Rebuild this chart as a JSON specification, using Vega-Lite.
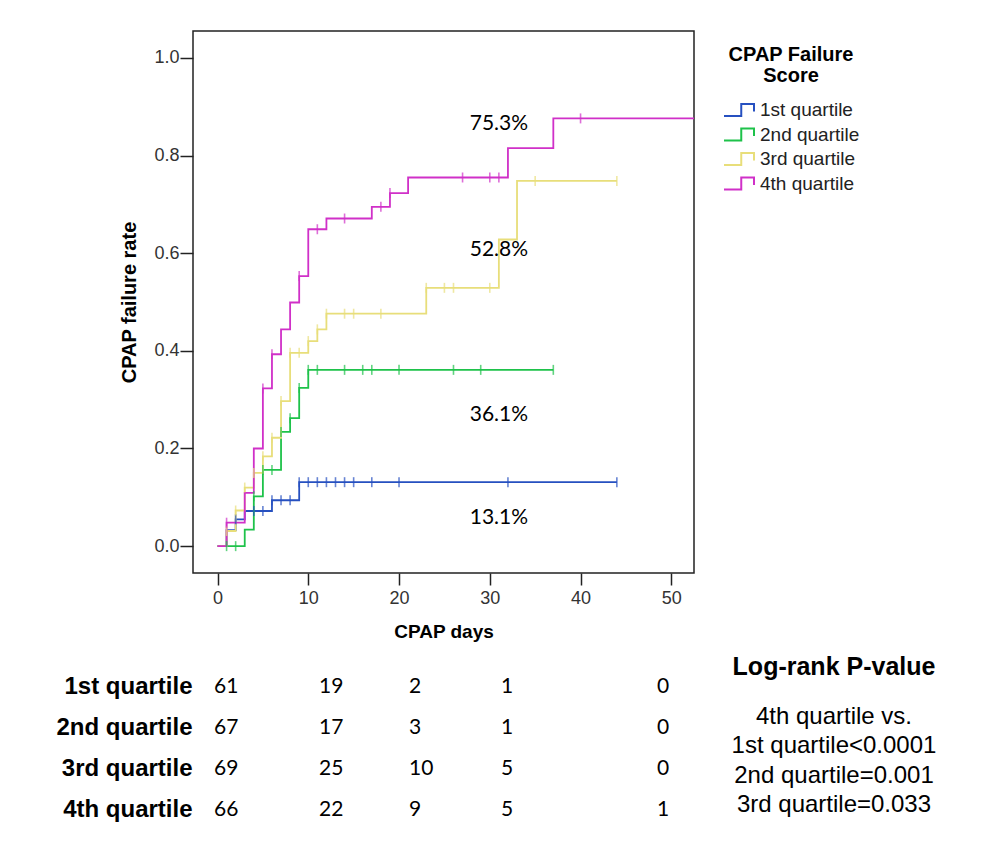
{
  "$schema": "https://vega.github.io/schema/vega-lite/v6.json",
  "padding": {"left": 55, "top": 30, "right": 0, "bottom": 0},
  "spacing": 12,
  "background": "white",
  "datasets": {
    "curves": [
      {"q": "1st quartile", "day": 0, "rate": 0},
      {"q": "1st quartile", "day": 1, "rate": 0.033},
      {"q": "1st quartile", "day": 2, "rate": 0.055},
      {"q": "1st quartile", "day": 3, "rate": 0.072},
      {"q": "1st quartile", "day": 6, "rate": 0.094},
      {"q": "1st quartile", "day": 9, "rate": 0.131},
      {"q": "1st quartile", "day": 44, "rate": 0.131},
      {"q": "2nd quartile", "day": 0, "rate": 0},
      {"q": "2nd quartile", "day": 3, "rate": 0.034},
      {"q": "2nd quartile", "day": 4, "rate": 0.102},
      {"q": "2nd quartile", "day": 5, "rate": 0.156},
      {"q": "2nd quartile", "day": 7, "rate": 0.234},
      {"q": "2nd quartile", "day": 8, "rate": 0.262},
      {"q": "2nd quartile", "day": 9, "rate": 0.324},
      {"q": "2nd quartile", "day": 10, "rate": 0.361},
      {"q": "2nd quartile", "day": 37, "rate": 0.361},
      {"q": "3rd quartile", "day": 0, "rate": 0},
      {"q": "3rd quartile", "day": 1, "rate": 0.031},
      {"q": "3rd quartile", "day": 2, "rate": 0.073},
      {"q": "3rd quartile", "day": 3, "rate": 0.12},
      {"q": "3rd quartile", "day": 4, "rate": 0.15},
      {"q": "3rd quartile", "day": 5, "rate": 0.184},
      {"q": "3rd quartile", "day": 6, "rate": 0.222},
      {"q": "3rd quartile", "day": 7, "rate": 0.297},
      {"q": "3rd quartile", "day": 8, "rate": 0.396},
      {"q": "3rd quartile", "day": 10, "rate": 0.42},
      {"q": "3rd quartile", "day": 11, "rate": 0.444},
      {"q": "3rd quartile", "day": 12, "rate": 0.476},
      {"q": "3rd quartile", "day": 23, "rate": 0.529},
      {"q": "3rd quartile", "day": 31, "rate": 0.628},
      {"q": "3rd quartile", "day": 33, "rate": 0.748},
      {"q": "3rd quartile", "day": 44, "rate": 0.748},
      {"q": "4th quartile", "day": 0, "rate": 0},
      {"q": "4th quartile", "day": 1, "rate": 0.048},
      {"q": "4th quartile", "day": 3, "rate": 0.109},
      {"q": "4th quartile", "day": 4, "rate": 0.2},
      {"q": "4th quartile", "day": 5, "rate": 0.323},
      {"q": "4th quartile", "day": 6, "rate": 0.393},
      {"q": "4th quartile", "day": 7, "rate": 0.444},
      {"q": "4th quartile", "day": 8, "rate": 0.499},
      {"q": "4th quartile", "day": 9, "rate": 0.553},
      {"q": "4th quartile", "day": 10, "rate": 0.649},
      {"q": "4th quartile", "day": 12, "rate": 0.671},
      {"q": "4th quartile", "day": 17, "rate": 0.695},
      {"q": "4th quartile", "day": 19, "rate": 0.723},
      {"q": "4th quartile", "day": 21, "rate": 0.755},
      {"q": "4th quartile", "day": 32, "rate": 0.815},
      {"q": "4th quartile", "day": 37, "rate": 0.876},
      {"q": "4th quartile", "day": 53, "rate": 0.876}
    ],
    "censor": [
      {"q": "1st quartile", "day": 2, "rate": 0.055},
      {"q": "1st quartile", "day": 4, "rate": 0.072},
      {"q": "1st quartile", "day": 5, "rate": 0.072},
      {"q": "1st quartile", "day": 6, "rate": 0.094},
      {"q": "1st quartile", "day": 7, "rate": 0.094},
      {"q": "1st quartile", "day": 8, "rate": 0.094},
      {"q": "1st quartile", "day": 9, "rate": 0.131},
      {"q": "1st quartile", "day": 10, "rate": 0.131},
      {"q": "1st quartile", "day": 11, "rate": 0.131},
      {"q": "1st quartile", "day": 12, "rate": 0.131},
      {"q": "1st quartile", "day": 13, "rate": 0.131},
      {"q": "1st quartile", "day": 14, "rate": 0.131},
      {"q": "1st quartile", "day": 15, "rate": 0.131},
      {"q": "1st quartile", "day": 17, "rate": 0.131},
      {"q": "1st quartile", "day": 20, "rate": 0.131},
      {"q": "1st quartile", "day": 32, "rate": 0.131},
      {"q": "1st quartile", "day": 44, "rate": 0.131},
      {"q": "2nd quartile", "day": 1, "rate": 0},
      {"q": "2nd quartile", "day": 2, "rate": 0},
      {"q": "2nd quartile", "day": 4, "rate": 0.102},
      {"q": "2nd quartile", "day": 5, "rate": 0.156},
      {"q": "2nd quartile", "day": 6, "rate": 0.156},
      {"q": "2nd quartile", "day": 7, "rate": 0.234},
      {"q": "2nd quartile", "day": 8, "rate": 0.262},
      {"q": "2nd quartile", "day": 9, "rate": 0.324},
      {"q": "2nd quartile", "day": 10, "rate": 0.361},
      {"q": "2nd quartile", "day": 11, "rate": 0.361},
      {"q": "2nd quartile", "day": 14, "rate": 0.361},
      {"q": "2nd quartile", "day": 16, "rate": 0.361},
      {"q": "2nd quartile", "day": 17, "rate": 0.361},
      {"q": "2nd quartile", "day": 20, "rate": 0.361},
      {"q": "2nd quartile", "day": 26, "rate": 0.361},
      {"q": "2nd quartile", "day": 29, "rate": 0.361},
      {"q": "2nd quartile", "day": 37, "rate": 0.361},
      {"q": "3rd quartile", "day": 1, "rate": 0.031},
      {"q": "3rd quartile", "day": 2, "rate": 0.073},
      {"q": "3rd quartile", "day": 3, "rate": 0.12},
      {"q": "3rd quartile", "day": 4, "rate": 0.15},
      {"q": "3rd quartile", "day": 5, "rate": 0.184},
      {"q": "3rd quartile", "day": 6, "rate": 0.222},
      {"q": "3rd quartile", "day": 7, "rate": 0.297},
      {"q": "3rd quartile", "day": 8, "rate": 0.396},
      {"q": "3rd quartile", "day": 9, "rate": 0.396},
      {"q": "3rd quartile", "day": 10, "rate": 0.42},
      {"q": "3rd quartile", "day": 11, "rate": 0.444},
      {"q": "3rd quartile", "day": 12, "rate": 0.476},
      {"q": "3rd quartile", "day": 14, "rate": 0.476},
      {"q": "3rd quartile", "day": 15, "rate": 0.476},
      {"q": "3rd quartile", "day": 18, "rate": 0.476},
      {"q": "3rd quartile", "day": 23, "rate": 0.529},
      {"q": "3rd quartile", "day": 25, "rate": 0.529},
      {"q": "3rd quartile", "day": 26, "rate": 0.529},
      {"q": "3rd quartile", "day": 30, "rate": 0.529},
      {"q": "3rd quartile", "day": 35, "rate": 0.748},
      {"q": "3rd quartile", "day": 44, "rate": 0.748},
      {"q": "4th quartile", "day": 1, "rate": 0.048},
      {"q": "4th quartile", "day": 5, "rate": 0.323},
      {"q": "4th quartile", "day": 6, "rate": 0.393},
      {"q": "4th quartile", "day": 9, "rate": 0.553},
      {"q": "4th quartile", "day": 11, "rate": 0.649},
      {"q": "4th quartile", "day": 14, "rate": 0.671},
      {"q": "4th quartile", "day": 18, "rate": 0.695},
      {"q": "4th quartile", "day": 19, "rate": 0.723},
      {"q": "4th quartile", "day": 27, "rate": 0.755},
      {"q": "4th quartile", "day": 30, "rate": 0.755},
      {"q": "4th quartile", "day": 31, "rate": 0.755},
      {"q": "4th quartile", "day": 40, "rate": 0.876}
    ],
    "pct": [
      {"label": "75.3%", "day": 31, "rate": 0.865},
      {"label": "52.8%", "day": 31, "rate": 0.607},
      {"label": "36.1%", "day": 31, "rate": 0.268},
      {"label": "13.1%", "day": 31, "rate": 0.057}
    ],
    "risk": [
      {"row": "1st quartile", "col": 0, "n": 61},
      {"row": "1st quartile", "col": 1, "n": 19},
      {"row": "1st quartile", "col": 2, "n": 2},
      {"row": "1st quartile", "col": 3, "n": 1},
      {"row": "1st quartile", "col": 4, "n": 0},
      {"row": "2nd quartile", "col": 0, "n": 67},
      {"row": "2nd quartile", "col": 1, "n": 17},
      {"row": "2nd quartile", "col": 2, "n": 3},
      {"row": "2nd quartile", "col": 3, "n": 1},
      {"row": "2nd quartile", "col": 4, "n": 0},
      {"row": "3rd quartile", "col": 0, "n": 69},
      {"row": "3rd quartile", "col": 1, "n": 25},
      {"row": "3rd quartile", "col": 2, "n": 10},
      {"row": "3rd quartile", "col": 3, "n": 5},
      {"row": "3rd quartile", "col": 4, "n": 0},
      {"row": "4th quartile", "col": 0, "n": 66},
      {"row": "4th quartile", "col": 1, "n": 22},
      {"row": "4th quartile", "col": 2, "n": 9},
      {"row": "4th quartile", "col": 3, "n": 5},
      {"row": "4th quartile", "col": 4, "n": 1}
    ],
    "ptitle": [
      {"row": "1st quartile", "col": 5, "t": "Log-rank P-value"}
    ],
    "pblock": [
      {"row": "2nd quartile", "col": 5, "lines": ["4th quartile vs.", "1st quartile<0.0001", "2nd quartile=0.001", "3rd quartile=0.033"]}
    ]
  },
  "vconcat": [
    {
      "width": 501,
      "height": 542,
      "layer": [
        {
          "data": {"name": "curves"},
          "mark": {"type": "line", "interpolate": "step-after", "strokeWidth": 1.8, "clip": true},
          "encoding": {
            "x": {
              "field": "day", "type": "quantitative",
              "scale": {"domain": [-2.7, 52.5], "nice": false, "zero": false},
              "axis": {"title": "CPAP days", "values": [0, 10, 20, 30, 40, 50], "grid": false, "domain": false,
                       "tickSize": 12, "tickColor": "#222", "tickWidth": 1.5, "labelPadding": 4,
                       "labelFontSize": 18, "labelColor": "#333", "titleFontSize": 19, "titleFontWeight": "bold",
                       "titleColor": "black", "titlePadding": 15}
            },
            "y": {
              "field": "rate", "type": "quantitative",
              "scale": {"domain": [-0.055, 1.055], "nice": false, "zero": false},
              "axis": {"title": "CPAP failure rate", "values": [0, 0.2, 0.4, 0.6, 0.8, 1.0], "format": ".1f", "grid": false, "domain": false,
                       "tickSize": 13, "tickColor": "#222", "tickWidth": 1.5, "labelPadding": 1,
                       "labelFontSize": 18, "labelColor": "#333", "titleFontSize": 20, "titleFontWeight": "bold",
                       "titleColor": "black", "titlePadding": 14}
            },
            "color": {
              "field": "q", "type": "nominal",
              "scale": {"domain": ["1st quartile", "2nd quartile", "3rd quartile", "4th quartile"],
                        "range": ["#2650C0", "#1EC24A", "#E8DE7A", "#D030C8"]},
              "legend": {
                "orient": "none", "legendX": 530, "legendY": 14,
                "title": ["CPAP Failure", "Score"], "titleFontSize": 20, "titleFontWeight": "bold",
                "titleColor": "black", "titleAnchor": "middle", "titleAlign": "center", "titleLineHeight": 21,
                "titlePadding": 13, "labelFontSize": 19, "labelColor": "#222", "labelOffset": 5,
                "symbolType": "M-1,0.4L0.15,0.4L0.15,-0.4L1,-0.4L1,0.1", "symbolSize": 900,
                "symbolStrokeWidth": 2, "symbolOpacity": 1,
                "rowPadding": 2.5, "clipHeight": 22, "padding": 0,
                "encode": {"symbols": {"update": {"fill": {"value": "transparent"}, "fillOpacity": {"value": 0}}}}
              }
            }
          }
        },
        {
          "data": {"name": "censor"},
          "mark": {"type": "tick", "orient": "vertical", "size": 10, "thickness": 1.6},
          "encoding": {
            "x": {"field": "day", "type": "quantitative"},
            "y": {"field": "rate", "type": "quantitative"},
            "color": {"field": "q", "type": "nominal", "legend": null}
          }
        },
        {
          "data": {"name": "pct"},
          "mark": {"type": "text", "font": "Lato", "fontSize": 21, "color": "black", "align": "center", "baseline": "middle"},
          "encoding": {
            "x": {"field": "day", "type": "quantitative"},
            "y": {"field": "rate", "type": "quantitative"},
            "text": {"field": "label"}
          }
        }
      ]
    },
    {
      "width": 760,
      "height": 164,
      "view": {"stroke": null},
      "encoding": {
        "x": {"field": "col", "type": "quantitative",
              "scale": {"domain": [0, 1, 2, 3, 4, 5], "range": [21, 126, 216, 308, 464, 641], "nice": false, "zero": false},
              "axis": null},
        "y": {"field": "row", "type": "nominal",
              "scale": {"domain": ["1st quartile", "2nd quartile", "3rd quartile", "4th quartile"], "paddingInner": 0, "paddingOuter": 0},
              "axis": {"title": null, "domain": false, "ticks": false, "labelFontSize": 24, "labelFontWeight": "bold",
                       "labelColor": "black", "labelPadding": 1}}
      },
      "layer": [
        {
          "data": {"name": "risk"},
          "mark": {"type": "text", "align": "left", "baseline": "middle", "font": "Lato", "fontSize": 21, "color": "black"},
          "encoding": {"text": {"field": "n", "type": "quantitative"}}
        },
        {
          "data": {"name": "ptitle"},
          "mark": {"type": "text", "align": "center", "baseline": "middle", "fontSize": 25, "fontWeight": "bold", "color": "black", "dy": -20},
          "encoding": {"text": {"field": "t"}}
        },
        {
          "data": {"name": "pblock"},
          "mark": {"type": "text", "align": "center", "baseline": "middle", "fontSize": 24, "lineHeight": 29.5, "color": "black", "dy": -11},
          "encoding": {"text": {"field": "lines"}}
        }
      ]
    }
  ],
  "config": {
    "font": "Liberation Sans",
    "view": {"stroke": "#222", "strokeWidth": 1.5},
    "axis": {"labelFont": "Liberation Sans", "titleFont": "Liberation Sans"},
    "legend": {"labelFont": "Liberation Sans", "titleFont": "Liberation Sans"}
  }
}
